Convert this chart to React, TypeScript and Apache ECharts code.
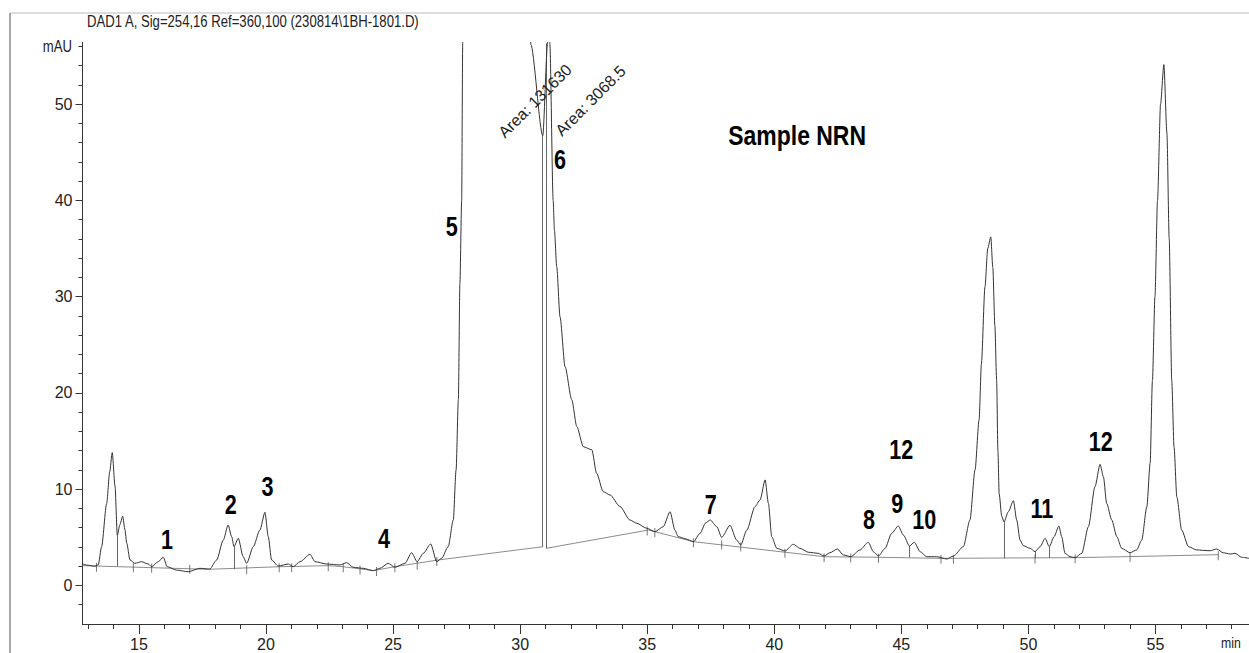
import React, { useEffect, useRef } from "react";
import * as echarts from "echarts";

// ---- Chromatogram trace (retention time in min, absorbance in mAU) ----
const timeMin = [
  12.78, 13.0, 13.27, 13.4, 13.53, 13.73, 13.85, 13.95, 14.06, 14.15, 14.25, 14.36, 14.45, 14.52, 14.65, 14.84,
  15.1, 15.37, 15.5, 15.76, 15.96, 16.11, 16.48, 16.94, 17.4, 17.79, 18.06, 18.32, 18.51, 18.65, 18.74, 18.91,
  19.1, 19.24, 19.5, 19.76, 19.96, 20.09, 20.22, 20.48, 20.88, 21.07, 21.34, 21.73, 21.93, 22.39, 22.91, 23.17,
  23.43, 23.83, 24.22, 24.48, 24.81, 25.07, 25.47, 25.73, 25.95, 26.19, 26.48, 26.72, 26.91, 27.17, 27.37, 27.48,
  27.57, 27.63, 27.7, 27.74, 27.78, 28.9, 30.38, 30.42, 30.89, 31.08, 31.12, 31.17, 31.3, 31.35, 31.44, 31.57,
  31.77, 32.03, 32.23, 32.49, 32.82, 33.01, 33.27, 33.54, 33.93, 34.32, 34.59, 34.98, 35.31, 35.63, 35.9, 36.09,
  36.22, 36.5, 36.82, 37.08, 37.3, 37.48, 37.74, 37.93, 38.26, 38.52, 38.68, 38.92, 39.24, 39.44, 39.64, 39.77,
  39.9, 40.1, 40.42, 40.75, 41.01, 41.34, 41.73, 41.96, 42.19, 42.48, 42.72, 43.01, 43.37, 43.7, 43.9, 44.1,
  44.36, 44.62, 44.88, 45.08, 45.32, 45.51, 45.74, 46.0, 46.39, 46.79, 47.05, 47.44, 47.7, 47.9, 48.06, 48.15,
  48.29, 48.4, 48.52, 48.6, 48.68, 48.75, 48.8, 48.85, 48.95, 49.04, 49.21, 49.41, 49.54, 49.67, 49.8, 50.07,
  50.26, 50.46, 50.66, 50.82, 51.01, 51.2, 51.31, 51.44, 51.64, 51.84, 52.1, 52.36, 52.62, 52.82, 52.95, 53.08,
  53.28, 53.48, 53.67, 54.0, 54.26, 54.46, 54.66, 54.79, 54.88, 54.98, 55.08, 55.2, 55.33, 55.45, 55.54, 55.64,
  55.73, 55.84, 56.03, 56.3, 56.62, 57.15, 57.41, 57.67, 57.94, 58.13, 58.39, 58.68,
];
const signalMAU = [
  2.23, 2.1, 2.0, 2.15, 4.0, 8.5, 11.8, 13.8, 10.3, 5.2, 6.3, 7.2, 5.8, 4.4, 2.65, 2.3,
  2.47, 2.23, 1.95, 2.47, 2.93, 1.95, 1.6, 1.43, 1.78, 1.71, 2.65, 4.72, 6.28, 5.07, 4.03, 4.9,
  3.0, 2.3, 4.03, 5.76, 7.6, 5.07, 2.65, 2.02, 2.23, 1.95, 2.47, 3.24, 2.47, 2.23, 2.13, 2.37,
  1.89, 1.78, 1.54, 1.78, 2.3, 1.89, 2.3, 3.4, 2.47, 3.34, 4.31, 2.47, 2.82, 4.03, 6.8, 12.0,
  19.3, 31.4, 40.0, 56.3, 80, 1500, 62, 56.2, 46.7, 56.3, 120, 56.2, 40, 36.9, 33.1, 27.9,
  22.7, 19.3, 16.5, 14.4, 14.1, 11.65, 9.74, 9.4, 8.2, 6.8, 6.46, 5.94, 5.59, 6.1, 7.66, 5.76,
  5.07, 4.85, 4.55, 5.42, 6.5, 6.8, 6.1, 5.0, 6.25, 4.72, 4.2, 5.76, 8.18, 8.88, 10.96, 8.53,
  5.07, 3.86, 3.58, 4.28, 3.86, 3.45, 3.34, 3.06, 3.4, 3.79, 3.17, 2.99, 3.69, 4.49, 3.51, 3.06,
  3.86, 5.42, 6.18, 5.24, 4.1, 4.49, 3.51, 2.99, 2.99, 2.75, 3.06, 4.03, 6.8, 12.0, 17.2, 23,
  31, 35, 36.2, 33, 27, 21.3, 14, 9.5, 7.2, 6.6, 7.66, 8.81, 6.8, 4.72, 4.13, 3.86,
  3.51, 4.03, 4.9, 4.03, 5.07, 6.18, 5.07, 3.34, 2.99, 2.89, 3.34, 6.1, 10.26, 12.58, 11.3, 8.53,
  6.8, 5.07, 3.86, 3.4, 3.69, 4.72, 8.18, 12.7, 21.3, 30, 40, 50, 54.1, 47, 36, 21.3,
  14.4, 9.2, 5.76, 4.03, 3.69, 3.61, 3.79, 3.4, 3.27, 3.34, 2.93, 2.82,
];

// ---- Integration baselines ----
const baselineAT = [12.78, 17.73, 20.55, 22.45, 23.04, 24.22, 25.07, 26.78, 30.91];
const baselineAV = [2.06, 1.68, 1.95, 2.06, 1.95, 1.54, 1.95, 2.65, 4.03];
const baselineBT = [31.02, 35.05, 36.82, 40.43, 41.96, 44.1, 46.52, 51.84, 54.0, 57.47];
const baselineBV = [3.86, 5.76, 4.55, 3.45, 2.99, 2.93, 2.82, 2.89, 3.0, 3.2];

// ---- Drop lines (time, top, bottom) ----
const dropT = [14.15, 18.74, 30.89, 31.02, 45.32, 49.04, 50.26, 50.82];
const dropTop = [5.2, 4.03, 46.7, 56.3, 4.1, 6.6, 3.51, 4.03];
const dropBottom = [2.0, 1.7, 4.03, 3.86, 2.93, 2.82, 2.85, 2.86];

// ---- Peak start/end tick marks ----
const tickT = [13.33, 14.78, 15.5, 17.0, 19.24, 20.52, 21.01, 22.45, 23.04, 23.7, 24.35, 25.07, 25.95, 26.72,
  35.0, 35.3, 36.82, 37.93, 38.68, 40.42, 41.96, 43.01, 44.1, 46.56, 47.05, 50.26, 51.84, 54.0, 57.47];
const tickV = [2.0, 1.95, 1.9, 1.8, 1.75, 1.95, 1.95, 2.05, 1.95, 1.7, 1.55, 1.95, 2.2, 2.6,
  5.75, 5.6, 4.55, 4.3, 4.1, 3.45, 2.99, 2.97, 2.93, 2.82, 2.83, 2.85, 2.87, 3.0, 3.2];

// ---- Peak number labels ----
const peakLabels = ["1", "2", "3", "4", "5", "6", "7", "8", "9", "10", "12", "11", "12"];
const peakLabelT = [16.11, 18.61, 20.06, 24.64, 27.31, 31.57, 37.5, 43.73, 44.84, 45.9, 45.0, 50.53, 52.85];
const peakLabelV = [4.72, 8.36, 10.26, 4.9, 37.26, 44.2, 8.36, 6.8, 8.53, 6.8, 14.07, 8.0, 14.93];

// ---- Area annotations ----
const areaLabels = ["Area: 131630", "Area: 3068.5"];
const areaLabelT = [29.47, 31.72];
const areaLabelV = [46.2, 46.4];

const sampleTitle = ["Sample NRN"];
const sampleT = [40.9];
const sampleV = [46.8];

const xMajor = [15, 20, 25, 30, 35, 40, 45, 50, 55];
const xMinor = [13, 14, 15, 16, 17, 18, 19, 20, 21, 22, 23, 24, 25, 26, 27, 28, 29, 30, 31, 32, 33, 34, 35, 36, 37, 38,
  39, 40, 41, 42, 43, 44, 45, 46, 47, 48, 49, 50, 51, 52, 53, 54, 55, 56, 57, 58];
const yMajor = [0, 10, 20, 30, 40, 50];
const yMinor = [-2, 0, 2, 4, 6, 8, 10, 12, 14, 16, 18, 20, 22, 24, 26, 28, 30, 32, 34, 36, 38, 40, 42, 44, 46, 48, 50,
  52, 54, 56];

const headerText = "DAD1 A, Sig=254,16 Ref=360,100 (230814\\1BH-1801.D)";

const SANS = '"Liberation Sans", Arial, sans-serif';
const CONDENSE = 0.82;

const X_MIN = 12.78;
const X_MAX = 58.68;
const Y_MIN = -4;
const Y_MAX = 56.4;

function textSeries(
  name: string,
  ts: number[],
  vs: number[],
  texts: string[],
  font: string,
  scaleX: number,
  rotation: number,
  align: string,
  vAlign: string,
  color: string
) {
  return {
    name,
    type: "custom",
    data: ts.map((t, i) => [t, vs[i]]),
    silent: true,
    z: 6,
    renderItem: (params: any, api: any) => {
      const p = api.coord([api.value(0), api.value(1)]);
      return {
        type: "text",
        x: p[0],
        y: p[1],
        scaleX,
        rotation,
        style: {
          text: texts[params.dataIndex],
          font,
          fill: color,
          align,
          verticalAlign: vAlign,
          textAlign: align,
          textVerticalAlign: vAlign,
        },
      };
    },
  };
}

export default function App() {
  const ref = useRef<HTMLDivElement>(null);

  useEffect(() => {
    if (!ref.current) return;
    const chart = echarts.init(ref.current, null, { renderer: "svg" });

    const trace = timeMin.map((t, i) => [t, signalMAU[i]]);
    const baseA = baselineAT.map((t, i) => [t, baselineAV[i]]);
    const baseB = baselineBT.map((t, i) => [t, baselineBV[i]]);
    const drops = dropT.map((t, i) => [{ coord: [t, dropTop[i]] }, { coord: [t, dropBottom[i]] }]);
    const ticks = tickT.map((t, i) => [t, tickV[i]]);

    const axisLineStyle = { color: "#333", width: 1 };

    const option: any = {
      animation: false,
      backgroundColor: "#fff",
      grid: { left: 82.5, right: 0, top: 42.4, bottom: 29, containLabel: false },
      xAxis: [
        {
          type: "value",
          min: X_MIN,
          max: X_MAX,
          axisLine: { show: true, onZero: false, lineStyle: axisLineStyle },
          axisTick: { show: true, customValues: xMinor, length: 5, lineStyle: axisLineStyle },
          axisLabel: {
            show: true,
            customValues: xMajor,
            fontFamily: SANS,
            fontSize: 16,
            color: "#222",
            margin: 12,
          },
          splitLine: { show: false },
        },
        {
          type: "value",
          min: X_MIN,
          max: X_MAX,
          position: "bottom",
          axisLine: { show: false, onZero: false },
          axisTick: { show: true, customValues: xMajor, length: 10, lineStyle: axisLineStyle },
          axisLabel: { show: false },
          splitLine: { show: false },
        },
      ],
      yAxis: [
        {
          type: "value",
          min: Y_MIN,
          max: Y_MAX,
          axisLine: { show: true, onZero: false, lineStyle: axisLineStyle },
          axisTick: { show: true, customValues: yMinor, length: 4, lineStyle: axisLineStyle },
          axisLabel: {
            show: true,
            customValues: yMajor,
            fontFamily: SANS,
            fontSize: 16,
            color: "#222",
            margin: 10,
          },
          splitLine: { show: false },
        },
        {
          type: "value",
          min: Y_MIN,
          max: Y_MAX,
          position: "left",
          axisLine: { show: false, onZero: false },
          axisTick: { show: true, customValues: yMajor, length: 7, lineStyle: axisLineStyle },
          axisLabel: { show: false },
          splitLine: { show: false },
        },
      ],
      graphic: [
        { type: "line", shape: { x1: 10, y1: 13, x2: 1249, y2: 13 }, style: { stroke: "#d2d2d2", lineWidth: 1.5 } },
        { type: "line", shape: { x1: 10, y1: 13, x2: 10, y2: 653 }, style: { stroke: "#a8a8a8", lineWidth: 2 } },
        {
          type: "text",
          x: 87,
          y: 22,
          scaleX: CONDENSE,
          style: { text: headerText, font: `16px ${SANS}`, fill: "#222", align: "left", verticalAlign: "middle" },
        },
        {
          type: "text",
          x: 72,
          y: 47,
          scaleX: CONDENSE,
          style: { text: "mAU", font: `16px ${SANS}`, fill: "#222", align: "right", verticalAlign: "middle" },
        },
        {
          type: "text",
          x: 1221,
          y: 643,
          scaleX: CONDENSE,
          style: { text: "min", font: `15px ${SANS}`, fill: "#222", align: "left", verticalAlign: "middle" },
        },
      ],
      series: [
        {
          name: "baselineA",
          type: "line",
          data: baseA,
          symbol: "none",
          lineStyle: { color: "#8c8c8c", width: 1 },
          silent: true,
          z: 2,
        },
        {
          name: "baselineB",
          type: "line",
          data: baseB,
          symbol: "none",
          lineStyle: { color: "#8c8c8c", width: 1 },
          silent: true,
          z: 2,
        },
        {
          name: "ticks",
          type: "scatter",
          data: ticks,
          symbol: "rect",
          symbolSize: [1, 9],
          symbolOffset: [0, 1],
          itemStyle: { color: "#555" },
          silent: true,
          z: 3,
        },
        {
          name: "DAD1 A",
          type: "line",
          data: trace,
          symbol: "none",
          clip: true,
          smooth: 0.25,
          smoothMonotone: "x",
          lineStyle: { color: "#333", width: 1 },
          silent: true,
          z: 5,
          markLine: {
            silent: true,
            symbol: ["none", "none"],
            label: { show: false },
            lineStyle: { color: "#666", type: "solid", width: 1 },
            data: drops,
          },
        },
        textSeries("peakLabels", peakLabelT, peakLabelV, peakLabels, `bold 27px ${SANS}`, 0.8, 0, "center", "middle", "#000"),
        textSeries("areaLabels", areaLabelT, areaLabelV, areaLabels, `16px ${SANS}`, 1, Math.PI / 4, "left", "bottom", "#222"),
        textSeries("sample", sampleT, sampleV, sampleTitle, `bold 28px ${SANS}`, CONDENSE, 0, "center", "middle", "#000"),
      ],
    };

    chart.setOption(option);
    return () => chart.dispose();
  }, []);

  return (
    <div
      ref={ref}
      style={{ position: "absolute", left: 0, top: 0, width: 1249, height: 653, background: "#fff" }}
    />
  );
}
